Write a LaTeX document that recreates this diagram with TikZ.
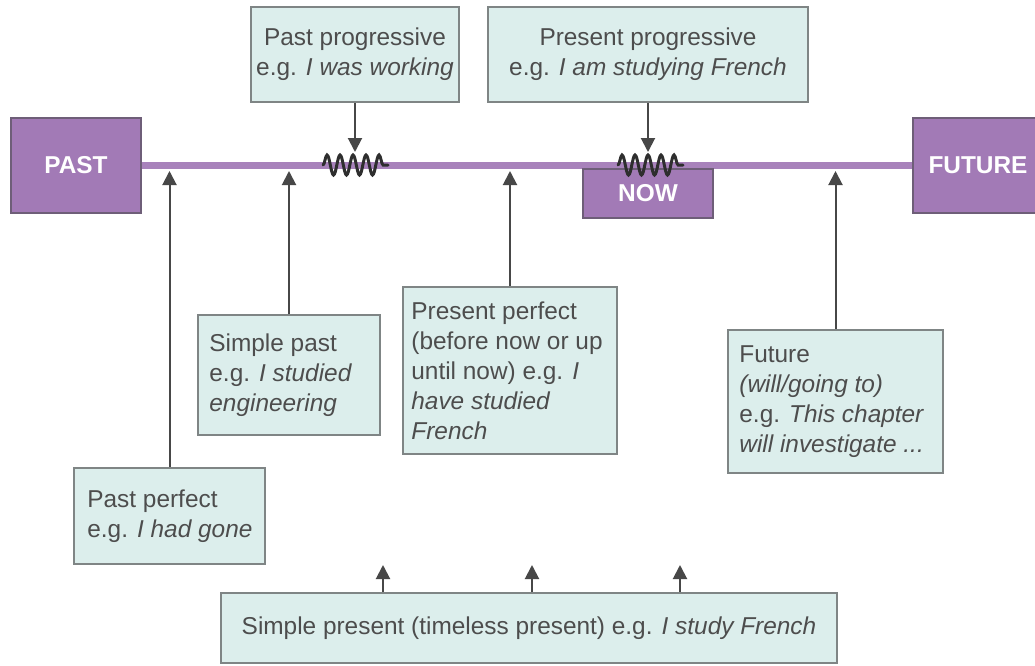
\documentclass[tikz,border=0pt]{standalone}
\usepackage{fontspec}
\setmainfont{Liberation Sans}
\usetikzlibrary{arrows.meta,decorations.pathmorphing}
\definecolor{boxfill}{HTML}{DCEEEC}
\definecolor{boxline}{HTML}{7F8585}
\definecolor{txt}{HTML}{4D4D4D}
\definecolor{purp}{HTML}{A27AB6}
\definecolor{purpline}{HTML}{A882BB}
\definecolor{purpedge}{HTML}{6E5E78}
\definecolor{arrowc}{HTML}{474747}
\definecolor{coilc}{HTML}{2E2E2E}
\newcommand{\fsz}{\fontsize{12.2pt}{15pt}\selectfont}
\begin{document}
\begin{tikzpicture}[x=0.5pt,y=-0.5pt,
  tbox/.style={draw=boxline,fill=boxfill,line width=1pt,inner sep=0pt},
  tlabel/.style={font=\fsz,text=txt,inner sep=0pt,align=left,anchor=west},
  ctext/.style={tbox,font=\fsz,text=txt,align=center},
  pbox/.style={draw=purpedge,fill=purp,line width=0.8pt,inner sep=0pt,font=\fsz\bfseries,text=white},
  arr/.style={draw=arrowc,line width=1pt,-{Triangle[length=7pt,width=7pt]}},
  coilst/.style={draw=coilc,line width=1.5pt,line cap=round,decorate,decoration={snake,segment length=6.5pt,amplitude=5pt}}
]
\clip (0,0) rectangle (1035,665);
\fill[white] (0,0) rectangle (1035,665);
% timeline end boxes
\node[pbox,minimum width=65pt,minimum height=47.5pt] (past) at (76,165.5) {PAST};
\node[pbox,minimum width=65pt,minimum height=47.5pt] (future) at (978,165.5) {FUTURE};
\draw[purpline,line width=3.6pt] (past.east) -- (future.west);
\node[pbox,minimum width=65pt,minimum height=24.5pt] (now) at (648,193.5) {NOW};
% coils
\coordinate (c1a) at (323,165);
\coordinate (c1b) at (388,165);
\coordinate (c2a) at (618,165);
\coordinate (c2b) at (683,165);
\draw[coilst] (c1a) -- (c1b);
\draw[coilst] (c2a) -- (c2b);
% boxes
\node[ctext,minimum width=104pt,minimum height=47.5pt] (pprog) at (355,54.5) {Past progressive\\e.g. \textit{I was working}};
\node[ctext,minimum width=160pt,minimum height=47.5pt] (prprog) at (648,54.5) {Present progressive\\e.g. \textit{I am studying French}};
\node[tbox,minimum width=91pt,minimum height=60pt] (spast) at (289,375) {};
\node[tlabel] (spastt) at ([xshift=6pt]spast.west) {Simple past\\e.g. \textit{I studied}\\\textit{engineering}};
\node[tbox,minimum width=107pt,minimum height=83.5pt] (pperf) at (510,370.5) {};
\node[tlabel] (pperft) at ([xshift=4.5pt]pperf.west) {Present perfect\\(before now or up\\until now) e.g. \textit{I}\\\textit{have studied}\\\textit{French}};
\node[tbox,minimum width=95.5pt,minimum height=48pt] (pastp) at (169.5,516) {};
\node[tlabel] (pastpt) at ([xshift=7pt]pastp.west) {Past perfect\\e.g. \textit{I had gone}};
\node[tbox,minimum width=107.5pt,minimum height=71.5pt] (fut) at (835.5,401.5) {};
\node[tlabel] (futt) at ([xshift=6pt]fut.west) {Future\\\textit{(will/going to)}\\e.g. \textit{This chapter}\\\textit{will investigate ...}};
\node[ctext,minimum width=308pt,minimum height=35pt] (spres) at (529,628) {Simple present (timeless present) e.g. \textit{I study French}};
% arrows
\coordinate (dn) at (0,152);
\draw[arr] (pprog.south) -- (pprog.south |- dn);
\draw[arr] (prprog.south) -- (prprog.south |- dn);
\coordinate (up) at (0,171);
\draw[arr] (pastp.north) -- (pastp.north |- up);
\draw[arr] (spast.north) -- (spast.north |- up);
\draw[arr] (pperf.north) -- (pperf.north |- up);
\draw[arr] (fut.north) -- (fut.north |- up);
\coordinate (b1) at (383,565);
\coordinate (b2) at (532,565);
\coordinate (b3) at (680,565);
\draw[arr] (spres.north -| b1) -- (b1);
\draw[arr] (spres.north -| b2) -- (b2);
\draw[arr] (spres.north -| b3) -- (b3);
\end{tikzpicture}
\end{document}
